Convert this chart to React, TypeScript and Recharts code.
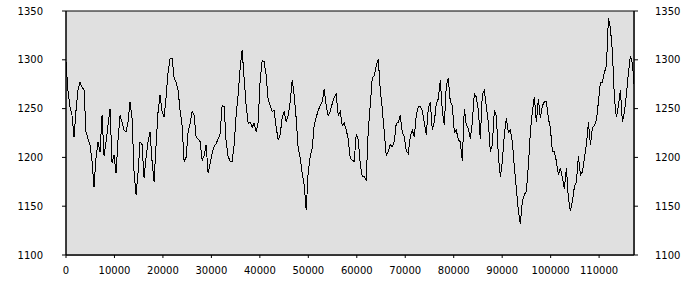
import { LineChart, Line, XAxis, YAxis, CartesianGrid, ReferenceArea } from "recharts";

// sample spacing along the x axis
const X_STEP = 413;

const values: number[] = [
  1298, 1268, 1252, 1243, 1221, 1248, 1269, 1277, 1272, 1269,
  1226, 1219, 1213, 1196, 1170, 1200, 1216, 1206, 1243, 1202,
  1216, 1233, 1250, 1194, 1202, 1184, 1218, 1243, 1236, 1228,
  1226, 1236, 1257, 1240, 1185, 1162, 1185, 1216, 1213, 1179,
  1200, 1216, 1226, 1196, 1175, 1213, 1247,
  1264, 1247, 1241, 1262, 1287, 1301, 1301, 1282, 1277, 1269,
  1248, 1233, 1196, 1200, 1226, 1235, 1247, 1243, 1221, 1219,
  1216, 1197, 1202, 1213, 1184, 1194, 1204, 1211, 1214, 1219,
  1224, 1253, 1252, 1216, 1201, 1196, 1196, 1213, 1243, 1264,
  1291, 1310, 1281, 1253, 1235, 1236, 1231, 1235,
  1226, 1236, 1279, 1299, 1298, 1284, 1259, 1253, 1247, 1248,
  1231, 1218, 1223, 1241, 1247, 1236, 1243, 1257, 1279, 1264,
  1240, 1209, 1200, 1184, 1172, 1146, 1185, 1201, 1209, 1233,
  1241, 1248, 1253, 1257, 1270, 1253, 1243, 1247, 1255, 1262,
  1265, 1243, 1247, 1233, 1235, 1228, 1219, 1199,
  1197, 1196, 1224, 1218, 1194, 1180, 1180, 1177, 1228, 1253,
  1281, 1284, 1294, 1301, 1270, 1250, 1226, 1202, 1206, 1213,
  1211, 1216, 1235, 1236, 1243, 1226, 1221, 1207, 1204, 1221,
  1228, 1221, 1243, 1252, 1252, 1248, 1236, 1223, 1250, 1257,
  1228, 1236, 1255, 1260, 1279, 1248, 1233,
  1274, 1281, 1257, 1253, 1226, 1228, 1218, 1216, 1196, 1250,
  1233, 1230, 1219, 1236, 1265, 1262, 1248, 1219, 1265, 1269,
  1252, 1236, 1206, 1213, 1248, 1243, 1202, 1180, 1196, 1223,
  1240, 1226, 1228, 1216, 1190, 1168, 1145, 1132, 1155, 1162,
  1165, 1192, 1226, 1247, 1262, 1236, 1260, 1240,
  1253, 1257, 1257, 1240, 1230, 1206, 1206, 1196, 1182, 1189,
  1179, 1168, 1189, 1158, 1145, 1155, 1170, 1175, 1201, 1182,
  1185, 1199, 1213, 1236, 1213, 1230, 1233, 1238, 1257, 1277,
  1277, 1287, 1294, 1343, 1332, 1308, 1260, 1241, 1253, 1269,
  1236, 1247, 1264, 1287, 1304, 1296, 1270,
];

const xTicks = [0, 10000, 20000, 30000, 40000, 50000, 60000, 70000, 80000, 90000, 100000, 110000];
const yTicks = [1100, 1150, 1200, 1250, 1300, 1350];

const X_MAX = 117200;

const data = values.map((v, i) => ({ x: i * X_STEP, v }));

const tickStyle = { fontFamily: "'DejaVu Sans', sans-serif", fontSize: 10, fill: "#000" };

export default function App() {
  return (
    <div style={{ position: "absolute", left: 0, top: 0, width: 700, height: 300, background: "#fff" }}>
      <LineChart width={700} height={300} data={data} margin={{ top: 11, right: 0, left: 0, bottom: 0 }}>
        <ReferenceArea yAxisId="left" x1={0} x2={X_MAX} y1={1100} y2={1350} fill="#e0e0e0" fillOpacity={1} stroke="none" />
        <CartesianGrid yAxisId="left" stroke="#cfcfcf" strokeWidth={1} shapeRendering="crispEdges" />
        <XAxis
          dataKey="x"
          type="number"
          domain={[0, X_MAX]}
          ticks={xTicks}
          height={45}
          tickSize={3}
          tickMargin={9}
          tick={tickStyle}
          stroke="#000"
          tickLine={{ stroke: "#000" }}
          allowDataOverflow
        />
        <YAxis
          yAxisId="left"
          orientation="left"
          domain={[1100, 1350]}
          ticks={yTicks}
          width={66}
          tickSize={4}
          tickMargin={19}
          tick={tickStyle}
          stroke="#000"
          allowDataOverflow
        />
        <YAxis
          yAxisId="right"
          orientation="right"
          domain={[1100, 1350]}
          ticks={yTicks}
          width={66}
          tickSize={4}
          tickMargin={17}
          tick={{ ...tickStyle, textAnchor: "start" }}
          stroke="#000"
          allowDataOverflow
        />
        <ReferenceArea yAxisId="left" x1={0} x2={X_MAX} y1={1100} y2={1350} fill="none" stroke="#000" strokeWidth={1} />
        <Line
          yAxisId="left"
          dataKey="v"
          type="linear"
          stroke="#000"
          strokeWidth={1}
          dot={false}
          shapeRendering="crispEdges"
          isAnimationActive={false}
        />
      </LineChart>
    </div>
  );
}
